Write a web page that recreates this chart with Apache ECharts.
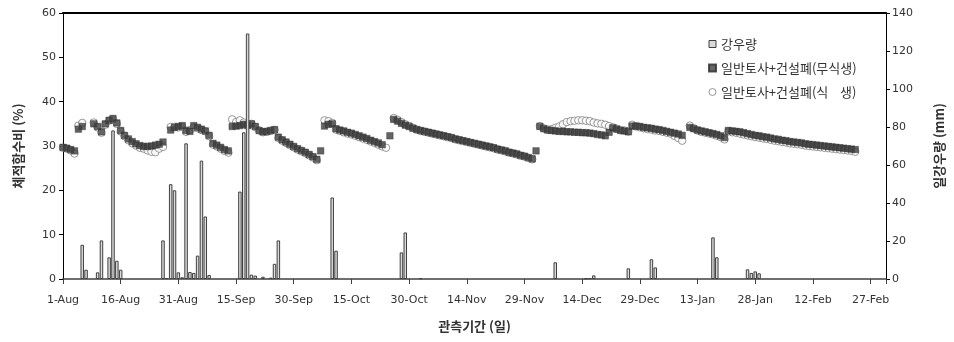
<!DOCTYPE html>
<html>
<head>
<meta charset="utf-8">
<script src="https://cdn.jsdelivr.net/npm/echarts@6/dist/echarts.min.js"></script>
<style>
  html, body { margin: 0; padding: 0; background: #fff; }
  #chart { width: 954px; height: 342px; }
</style>
</head>
<body>
<div id="chart"></div>
<script>
// day 0 = 1-Aug
const tickLabels = ['1-Aug', '16-Aug', '31-Aug', '15-Sep', '30-Sep', '15-Oct', '30-Oct', '14-Nov',
    '29-Nov', '14-Dec', '29-Dec', '13-Jan', '28-Jan', '12-Feb', '27-Feb'];

// daily rainfall (mm)
const rainDays = [5, 6, 9, 10, 12, 13, 14, 15,
    26, 27, 28, 29, 30, 31, 32, 33, 34, 35, 36, 37, 38,
    46, 47, 48, 49, 50, 52, 54, 55, 56,
    70, 71, 88, 89, 93,
    128, 136, 137, 138, 147, 153, 154, 169, 170, 178, 179, 180, 181];
const rainMm = [18.0, 4.9, 3.5, 20.3, 11.4, 78.2, 9.6, 4.9,
    20.3, 0.5, 49.9, 46.7, 3.5, 0.9, 71.4, 3.7, 3.2, 12.3, 62.3, 32.9, 2.1,
    46.0, 77.2, 129.2, 2.3, 1.8, 1.2, 0.7, 8.0, 20.3,
    42.9, 14.9, 14.0, 24.5, 0.4,
    8.8, 0.3, 0.5, 1.9, 5.6, 10.4, 6.1, 21.9, 11.4, 5.1, 3.2, 4.0, 3.0];

// 일반토사+건설폐(무식생): first day of each run, then the run's values (%)
const bareStart = [0, 4, 8, 28, 44, 56, 67, 68, 85, 86, 123, 124, 142, 148, 163, 173];
const bareVals = [
    [29.7, 29.5, 29.2, 28.9],
    [33.8, 34.4],
    [35.0, 34.4, 33.2, 35.0, 35.8, 36.2, 35.2, 33.5, 32.4, 31.6, 31.0, 30.5, 30.1, 29.9, 29.9, 30.0, 30.2, 30.4, 30.9],
    [33.6, 34.2, 34.4, 34.6, 33.5, 33.3, 34.6, 34.2, 33.8, 33.4, 32.4, 30.6, 30.2, 29.7, 29.2, 28.9],
    [34.4, 34.5, 34.6, 34.9, 34.6, 35.0, 34.4, 33.5, 33.2, 33.3, 33.5, 33.7],
    [32.0, 31.4, 30.9, 30.4, 29.9, 29.4, 29.0, 28.6, 28.1, 27.6, 27.0],
    [28.9],
    [34.5, 34.9, 35.0, 33.9, 33.6, 33.4, 33.1, 32.9, 32.6, 32.3, 32.0, 31.7, 31.3, 31.0, 30.7, 30.3],
    [32.3],
    [36.0, 35.6, 35.1, 34.7, 34.4, 34.0, 33.7, 33.5, 33.3, 33.1, 32.9, 32.7, 32.5, 32.3, 32.1, 31.9, 31.6, 31.4, 31.2,
        31.0, 30.8, 30.6, 30.4, 30.2, 30.0, 29.8, 29.6, 29.3, 29.1, 28.9, 28.6, 28.4, 28.2, 27.9, 27.7, 27.4, 27.1],
    [28.9],
    [34.4, 33.9, 33.6, 33.5, 33.4, 33.3, 33.3, 33.2, 33.2, 33.1, 33.1, 33.0, 33.0, 32.9, 32.8, 32.6, 32.5, 32.3],
    [33.1, 34.1, 33.8, 33.5, 33.4, 33.2],
    [34.5, 34.5, 34.4, 34.2, 34.1, 34.0, 33.8, 33.7, 33.5, 33.3, 33.1, 32.9, 32.7, 32.4],
    [34.2, 33.9, 33.6, 33.4, 33.2, 33.0, 32.8, 32.6, 32.3, 31.9],
    [33.5, 33.4, 33.3, 33.2, 33.0, 32.8, 32.6, 32.4, 32.3, 32.1, 32.0, 31.8, 31.6, 31.5, 31.3, 31.2, 31.0,
        30.9, 30.8, 30.7, 30.5, 30.4, 30.3, 30.2, 30.1, 30.0, 29.9, 29.8, 29.7, 29.6, 29.5, 29.4, 29.3, 29.2]
];

// 일반토사+건설폐(식생)
const vegStart = [0, 4, 8, 28, 44, 56, 68, 86, 124, 142, 148, 163, 173];
const vegVals = [
    [29.6, 29.4, 29.0, 28.3],
    [34.6, 35.2],
    [35.3, 34.2, 33.0, 34.8, 35.7, 36.0, 35.0, 33.3, 32.2, 31.3, 30.6, 30.1, 29.6, 29.4, 29.0, 28.7, 28.6, 29.4, 29.8],
    [34.3, 34.3, 34.2, 34.3, 33.2, 33.6, 34.2, 34.0, 33.6, 33.3, 32.2, 30.3, 29.9, 29.4, 28.9, 28.5],
    [36.0, 35.4, 35.8, 35.3, 34.9, 35.0, 34.3, 33.5, 33.1, 33.2, 33.4, 33.6],
    [31.8, 31.2, 30.7, 30.2, 29.7, 29.2, 28.8, 28.4, 27.9, 27.4, 26.8],
    [35.8, 35.6, 35.2, 33.7, 33.4, 33.1, 32.8, 32.6, 32.3, 32.0, 31.7, 31.4, 31.0, 30.7, 30.3, 29.9, 29.6],
    [36.3, 35.9, 35.4, 34.9, 34.5, 34.1, 33.7, 33.4, 33.2, 33.0, 32.8, 32.6, 32.4, 32.2, 32.0, 31.8, 31.5, 31.3, 31.1,
        30.9, 30.7, 30.5, 30.3, 30.1, 29.9, 29.7, 29.5, 29.2, 29.0, 28.8, 28.5, 28.3, 28.1, 27.8, 27.6, 27.3, 27.0],
    [34.5, 34.0, 33.7, 33.8, 34.1, 34.4, 34.9, 35.4, 35.6, 35.7, 35.8, 35.8, 35.7, 35.6, 35.3, 35.1, 35.0, 34.8],
    [34.5, 34.2, 33.9, 33.6, 33.5, 33.3],
    [34.8, 34.4, 34.2, 34.0, 33.8, 33.7, 33.5, 33.4, 33.2, 33.0, 32.8, 32.3, 31.8, 31.2],
    [34.6, 34.0, 33.5, 33.2, 33.0, 32.8, 32.6, 32.3, 32.0, 31.5],
    [33.3, 33.1, 33.0, 32.8, 32.6, 32.4, 32.2, 32.0, 31.9, 31.7, 31.6, 31.4, 31.2, 31.1, 30.9, 30.8, 30.6,
        30.5, 30.4, 30.3, 30.1, 30.0, 29.9, 29.8, 29.7, 29.6, 29.5, 29.4, 29.3, 29.2, 29.1, 29.0, 28.9, 28.7]
];

const toPoints = (starts, runs) => runs.flatMap((run, i) => run.map((v, k) => [starts[i] + k, v]));

const chart = echarts.init(document.getElementById('chart'), null, { renderer: 'canvas' });
const labelFont = { fontFamily: 'DejaVu Sans', fontSize: 11, color: '#333' };
const titleFont = { fontFamily: 'Noto Sans CJK KR', fontSize: 13, fontWeight: 'bold', color: '#333' };

chart.setOption({
    animation: false,
    backgroundColor: '#fff',
    grid: { left: 63, right: 66, top: 13, bottom: 63 },
    legend: {
        orient: 'vertical',
        left: 703,
        top: 31,
        itemWidth: 7,
        itemHeight: 7,
        itemGap: 8,
        textStyle: { fontFamily: 'Noto Sans CJK KR', fontSize: 13, color: '#333', lineHeight: 16 },
        data: [
            { name: '강우량', icon: 'rect', itemStyle: { color: '#d9d9d9', borderColor: '#404040', borderWidth: 1 } },
            { name: '일반토사+건설폐(무식생)', icon: 'rect', itemStyle: { color: '#404040' } },
            { name: '일반토사+건설폐(식    생)', icon: 'circle', itemStyle: { color: '#fff', borderColor: '#7f7f7f', borderWidth: 1 } }
        ]
    },
    xAxis: [
        {
            type: 'value',
            min: 0,
            max: 214,
            interval: 15,
            name: '관측기간 (일)',
            nameLocation: 'middle',
            nameGap: 41,
            nameTextStyle: titleFont,
            axisLine: { onZero: false, lineStyle: { color: '#404040', width: 1.5 } },
            axisTick: { length: 5, lineStyle: { color: '#404040' } },
            axisLabel: {
                ...labelFont,
                margin: 16,
                formatter: v => (v % 15 === 0 ? tickLabels[v / 15] || '' : '')
            },
            splitLine: { show: false }
        },
        {
            type: 'value',
            position: 'top',
            min: 0,
            max: 214,
            axisLine: { show: true, onZero: false, lineStyle: { color: '#000', width: 2 } },
            axisTick: { show: false },
            axisLabel: { show: false },
            splitLine: { show: false }
        }
    ],
    yAxis: [
        {
            type: 'value',
            min: 0,
            max: 60,
            interval: 10,
            name: '체적함수비 (%)',
            nameLocation: 'middle',
            nameRotate: 90,
            nameGap: 38,
            nameTextStyle: titleFont,
            axisLine: { show: true, onZero: false, lineStyle: { color: '#000' } },
            axisTick: { show: true, length: 4, lineStyle: { color: '#000' } },
            axisLabel: { ...labelFont, margin: 7 },
            splitLine: { show: false }
        },
        {
            type: 'value',
            min: 0,
            max: 140,
            interval: 20,
            position: 'right',
            name: '일강우량 (mm)',
            nameLocation: 'middle',
            nameRotate: 90,
            nameGap: 47,
            nameTextStyle: titleFont,
            axisLine: { show: true, onZero: false, lineStyle: { color: '#000' } },
            axisTick: { show: true, length: 4, lineStyle: { color: '#000' } },
            axisLabel: { ...labelFont, margin: 6 },
            splitLine: { show: false }
        }
    ],
    series: [
        {
            name: '일반토사+건설폐(식    생)',
            type: 'scatter',
            yAxisIndex: 0,
            symbol: 'circle',
            symbolSize: 7.5,
            itemStyle: { color: '#fff', borderColor: '#7f7f7f', borderWidth: 1 },
            z: 2,
            data: toPoints(vegStart, vegVals)
        },
        {
            name: '일반토사+건설폐(무식생)',
            type: 'scatter',
            yAxisIndex: 0,
            symbol: 'rect',
            symbolSize: 6.5,
            itemStyle: { color: '#3d3d3d', borderColor: '#2a2a2a', borderWidth: 0.5 },
            z: 3,
            data: toPoints(bareStart, bareVals)
        },
        {
            name: '강우량',
            type: 'bar',
            yAxisIndex: 1,
            barWidth: 3.5,
            itemStyle: { color: '#d9d9d9', borderColor: '#404040', borderWidth: 1 },
            z: 4,
            data: rainDays.map((d, i) => [d, rainMm[i]])
        }
    ]
});
</script>
</body>
</html>
